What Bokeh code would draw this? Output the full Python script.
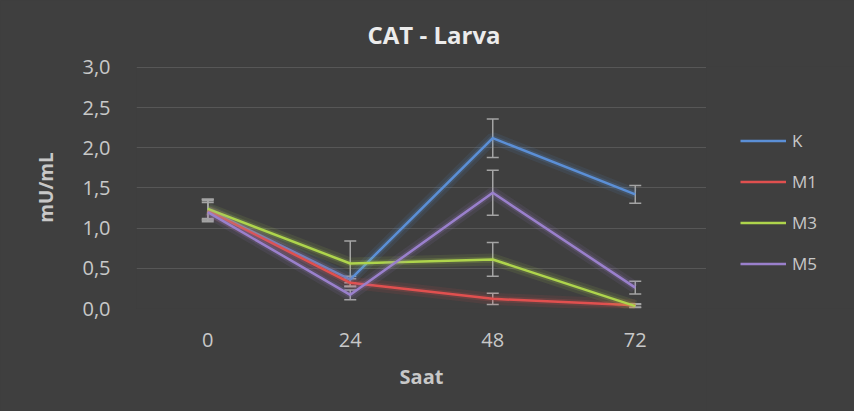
from bokeh.plotting import figure
from bokeh.layouts import row
from bokeh.models import (ColumnDataSource, Whisker, TeeHead, Legend, LegendItem,
                          FactorRange, Range1d)
from bokeh.embed import file_html
from bokeh.resources import INLINE

hours = ["0", "24", "48", "72"]
series_names = ["K", "M1", "M3", "M5"]
K = [1.23, 0.36, 2.12, 1.42]
K_err = [0.13, 0.04, 0.24, 0.11]
M1 = [1.22, 0.32, 0.12, 0.04]
M1_err = [0.12, 0.05, 0.07, 0.02]
M3 = [1.24, 0.56, 0.61, 0.03]
M3_err = [0.12, 0.28, 0.21, 0.02]
M5 = [1.20, 0.17, 1.44, 0.26]
M5_err = [0.12, 0.06, 0.28, 0.08]
y_ticks = [0.0, 0.5, 1.0, 1.5, 2.0, 2.5, 3.0]
y_tick_labels = ["0,0", "0,5", "1,0", "1,5", "2,0", "2,5", "3,0"]

colors = ["#5b8fd6", "#e0504f", "#aed44c", "#9a80cc"]
values = [K, M1, M3, M5]
errors = [K_err, M1_err, M3_err, M5_err]

BG = "#3f3f3f"
TXT = "#c8c8c8"
FONT = "Open Sans"

p = figure(width=706, height=411, x_range=FactorRange(*hours),
           y_range=Range1d(0, 3.012),
           output_backend="svg", toolbar_location=None,
           min_border_left=136, min_border_right=0, min_border_top=65,
           min_border_bottom=103)
p.background_fill_color = BG
p.border_fill_color = BG
p.outline_line_color = None

p.title.text = "CAT - Larva"
p.title.align = "left"
p.title.offset = 231
p.title.text_font = FONT
p.title.text_font_size = "24px"
p.title.text_font_style = "bold"
p.title.text_color = "#ececec"
p.title.standoff = 31

p.xgrid.grid_line_color = None
p.ygrid.grid_line_color = "#575757"
p.ygrid.grid_line_width = 1
p.yaxis.ticker = y_ticks
p.yaxis.major_label_overrides = {t: s for t, s in zip(y_ticks, y_tick_labels)}

for ax in (p.xaxis, p.yaxis):
    ax.axis_line_color = None
    ax.major_tick_line_color = None
    ax.minor_tick_line_color = None
    ax.major_tick_out = 0
    ax.major_label_text_color = TXT
    ax.major_label_text_font = FONT
    ax.major_label_text_font_size = "20px"
    ax.axis_label_text_color = TXT
    ax.axis_label_text_font = FONT
    ax.axis_label_text_font_style = "bold"

p.xaxis.axis_label = "Saat"
p.yaxis.axis_label = "mU/mL"
p.xaxis.axis_label_text_font_size = "20px"
p.yaxis.axis_label_text_font_size = "19px"
p.xaxis.major_label_standoff = 24
p.xaxis.axis_label_standoff = 13
p.yaxis.major_label_standoff = 26
p.yaxis.axis_label_standoff = 20

# legend panel (separate figure to the right of the plot area; its frame is
# aligned with the main plot's frame by the row layout)
pl = figure(width=148, height=411, x_range=FactorRange(*hours),
            y_range=Range1d(10, 11), output_backend="svg", toolbar_location=None,
            min_border=0, x_axis_location=None, y_axis_location=None)
pl.background_fill_color = BG
pl.border_fill_color = BG
pl.outline_line_color = None
pl.grid.grid_line_color = None

items = []
for name, vals, errs, col in zip(series_names, values, errors, colors):
    src = ColumnDataSource(dict(x=hours, y=vals,
                                upper=[v + e for v, e in zip(vals, errs)],
                                lower=[v - e for v, e in zip(vals, errs)]))
    p.line("x", "y", source=src, line_color=col, line_width=12, line_alpha=0.10)
    p.line("x", "y", source=src, line_color=col, line_width=6, line_alpha=0.18)
    p.line("x", "y", source=src, line_color=col, line_width=2.5)
    w = Whisker(base="x", upper="upper", lower="lower", source=src,
                line_color="#a4a4a4", line_width=1.5,
                upper_head=TeeHead(size=12, line_color="#a4a4a4", line_width=1.5),
                lower_head=TeeHead(size=12, line_color="#a4a4a4", line_width=1.5))
    p.add_layout(w)
    r = pl.line("x", "y", source=src, line_color=col, line_width=2.5)
    items.append(LegendItem(label=name, renderers=[r]))

legend = Legend(items=items, location=(34, 33), orientation="vertical",
                glyph_width=46, glyph_height=23, label_height=23, spacing=18,
                label_standoff=6, padding=0, margin=0,
                background_fill_alpha=0, border_line_color=None,
                label_text_color=TXT, label_text_font=FONT,
                label_text_font_size="17px")
pl.add_layout(legend)

layout = row(p, pl, spacing=0, styles={"background-color": BG})
open("out.html", "w").write(file_html(layout, INLINE))
